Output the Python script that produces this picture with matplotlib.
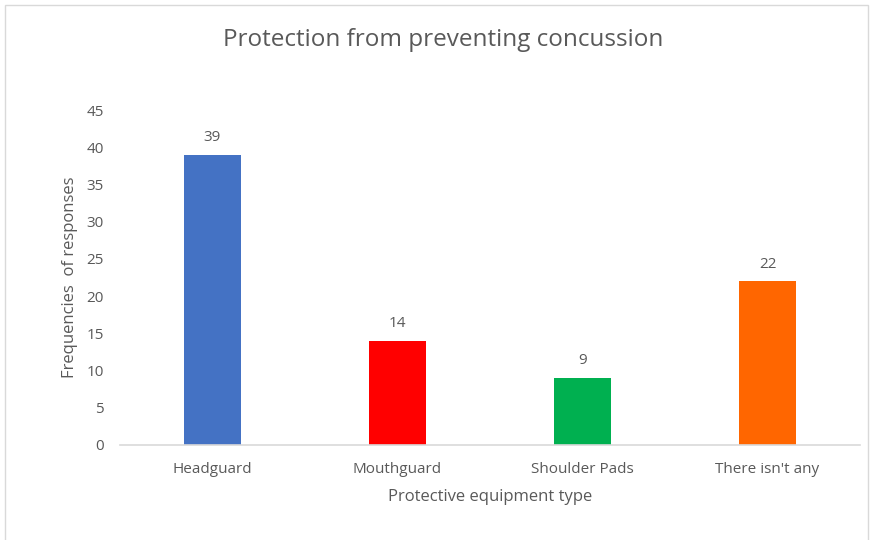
import matplotlib
matplotlib.use("Agg")
import matplotlib.pyplot as plt
from matplotlib.patches import Rectangle

plt.rcParams['font.family'] = ['Open Sans', 'DejaVu Sans']

categories = ["Headguard", "Mouthguard", "Shoulder Pads", "There isn't any"]
frequencies = [39, 14, 9, 22]
bar_colors = ["#4472C4", "#FF0000", "#00B050", "#FF6600"]
y_ticks = [0, 5, 10, 15, 20, 25, 30, 35, 40, 45]

text_color = "#595959"

fig = plt.figure(figsize=(8.72, 5.40), dpi=100)
fig.patches.append(Rectangle((5 / 872, -0.1), (868 - 5) / 872, 1.1 - 5 / 540,
                             transform=fig.transFigure, fill=False,
                             edgecolor="#D9D9D9", linewidth=1))

ax = fig.add_axes([120 / 872, 1 - 445 / 540, (860 - 120) / 872, (445 - 110) / 540])
x = range(len(categories))
bars = ax.bar(x, frequencies, width=0.31, color=bar_colors)
for xi, v in zip(x, frequencies):
    ax.text(xi, v + 1.3, str(v), ha="center", va="bottom", fontsize=11, color=text_color)

ax.set_xlim(-0.5, len(categories) - 0.5)
ax.set_ylim(0, 45)
ax.set_yticks(y_ticks)
ax.set_xticks(list(x))
ax.set_xticklabels(categories)
ax.tick_params(axis="both", length=0, labelsize=11, colors=text_color)
ax.tick_params(axis="y", pad=11.5)
ax.tick_params(axis="x", pad=12)
for side in ["top", "right", "left"]:
    ax.spines[side].set_visible(False)
ax.spines["bottom"].set_color("#D9D9D9")
ax.spines["bottom"].set_linewidth(1.2)

ax.set_xlabel("Protective equipment type", fontsize=12, color=text_color, labelpad=9)
ax.set_ylabel("Frequencies  of responses", fontsize=12, color=text_color, labelpad=6)

fig.text(443 / 872, 1 - 40 / 540, "Protection from preventing concussion",
         ha="center", va="center", fontsize=17.5, color=text_color)

fig.savefig("out.png", dpi=100)
